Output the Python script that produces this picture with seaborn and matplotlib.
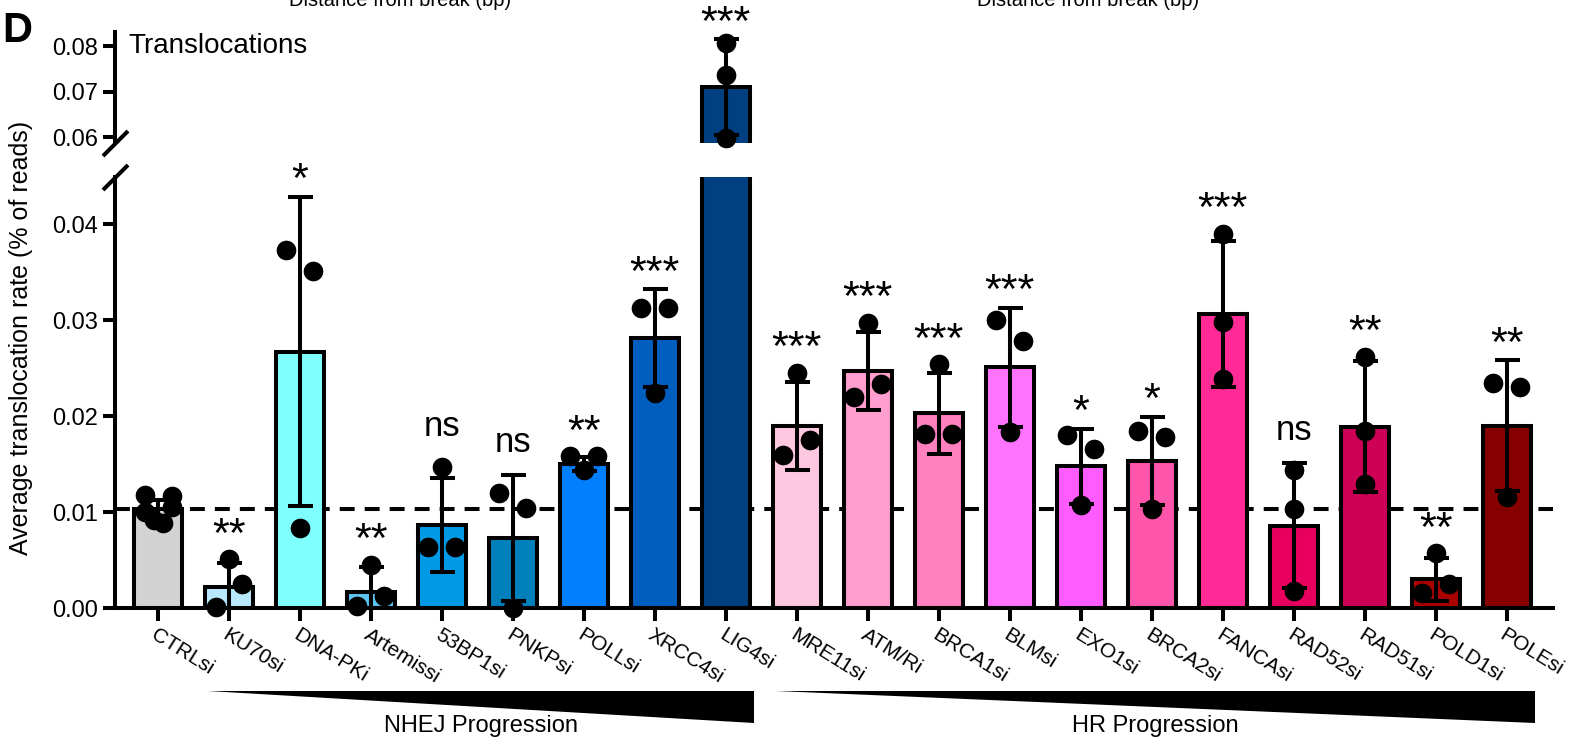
import numpy as np
import matplotlib
matplotlib.use('Agg')
import matplotlib.pyplot as plt
import matplotlib.transforms as mtransforms
from matplotlib.patches import Polygon
from matplotlib.ticker import FormatStrFormatter
import seaborn as sns

# --- data (translocation rate, % of reads) ---
categories = ['CTRLsi', 'KU70si', 'DNA-PKi', 'Artemissi', '53BP1si', 'PNKPsi', 'POLLsi',
              'XRCC4si', 'LIG4si', 'MRE11si', 'ATM/Ri', 'BRCA1si', 'BLMsi', 'EXO1si',
              'BRCA2si', 'FANCAsi', 'RAD52si', 'RAD51si', 'POLD1si', 'POLEsi']
means = [0.0103, 0.0022, 0.0267, 0.0017, 0.0087, 0.0073, 0.0150, 0.0281, 0.0710, 0.0190,
         0.0247, 0.0203, 0.0251, 0.0148, 0.0153, 0.0306, 0.0086, 0.0189, 0.0030, 0.0190]
sds = [0.0010, 0.0025, 0.0161, 0.0026, 0.0049, 0.0066, 0.0007, 0.0051, 0.0105, 0.0046,
       0.0041, 0.0042, 0.0062, 0.0039, 0.0046, 0.0076, 0.0065, 0.0068, 0.0022, 0.0068]
replicates = [
    [0.0118, 0.0117, 0.0100, 0.0105, 0.0089, 0.0092],
    [0.0051, 0.0001, 0.0025],
    [0.0373, 0.0351, 0.0084],
    [0.0045, 0.0002, 0.0013],
    [0.0147, 0.0064, 0.0064],
    [0.0120, 0.0104, 0.0000],
    [0.0158, 0.0158, 0.0144],
    [0.0313, 0.0313, 0.0224],
    [0.0808, 0.0737, 0.0598],
    [0.0245, 0.0160, 0.0175],
    [0.0297, 0.0220, 0.0233],
    [0.0254, 0.0181, 0.0181],
    [0.0300, 0.0278, 0.0184],
    [0.0180, 0.0166, 0.0107],
    [0.0185, 0.0178, 0.0103],
    [0.0390, 0.0298, 0.0239],
    [0.0144, 0.0103, 0.0018],
    [0.0262, 0.0185, 0.0129],
    [0.0057, 0.0016, 0.0025],
    [0.0234, 0.0230, 0.0116],
]
sig_labels = ['', '**', '*', '**', 'ns', 'ns', '**', '***', '***', '***',
              '***', '***', '***', '*', '*', '***', 'ns', '**', '**', '**']
bar_colors = ['#D3D3D3', '#B8E8FC', '#80FFFF', '#5CC3F2', '#0099E6', '#0080BB', '#0080FF',
              '#005EBF', '#003F80', '#FFC8E1', '#FF9ECF', '#FF80BF', '#FF73FF', '#FF5CFF',
              '#FF55AA', '#FF2A95', '#E8005E', '#CC0055', '#AA0000', '#860000']
ctrl_level = 0.0103
nhej_span = (1, 8)
hr_span = (9, 19)

sns.set_theme(style='ticks')
plt.rcParams['font.family'] = ['Liberation Sans', 'DejaVu Sans']
plt.rcParams.update({'text.color': 'black', 'axes.edgecolor': 'black',
                     'xtick.color': 'black', 'ytick.color': 'black',
                     'axes.linewidth': 2.9})

fig = plt.figure(figsize=(15.84, 7.40), dpi=100)
ax_top = fig.add_axes([0.0726, 0.8068, 0.9078, 0.1504])
ax_bot = fig.add_axes([0.0726, 0.1781, 0.9078, 0.5827])
low_lim = (0, 0.0449)
top_lim = (0.05875, 0.0832)
xpos = np.arange(len(categories))


def spread(vals, px_per_unit, d=0.19, thresh_px=24):
    # GraphPad-like column scatter: neighbours that would overlap get pushed sideways
    vals = np.asarray(vals)
    offs = np.zeros(len(vals))
    groups = []
    for idx in np.argsort(vals, kind='stable'):
        if groups and (vals[idx] - vals[groups[-1][0]]) * px_per_unit < thresh_px:
            groups[-1].append(idx)
        else:
            groups.append([idx])
    for g in groups:
        g = sorted(g)
        pattern = sorted(np.linspace(-d, d, len(g)), key=lambda o: -abs(o)) if len(g) > 1 else [0.0]
        for idx, o in zip(g, pattern):
            offs[idx] = o
    return offs


for ax, lim in [(ax_top, top_lim), (ax_bot, low_lim)]:
    sns.barplot(x=categories, y=means, hue=categories, palette=bar_colors, legend=False,
                width=0.68, saturation=1, edgecolor='black', linewidth=2.9,
                errorbar=None, ax=ax, zorder=2)
    ax.errorbar(xpos, means, yerr=sds, fmt='none', ecolor='black', elinewidth=2.9,
                capsize=9, capthick=2.9, zorder=3)
    ax.set_xlim(-0.606, 19.652)
    ax.set_ylim(*lim)
    ax.set_ylabel('')
    ax.yaxis.set_major_formatter(FormatStrFormatter('%.2f'))
    ax.tick_params(axis='y', length=9, width=2.9, labelsize=17, pad=3)
    for s in ['top', 'right']:
        ax.spines[s].set_visible(False)

# dots, each placed on the axis that holds its value
for ax, lim in [(ax_top, top_lim), (ax_bot, low_lim)]:
    px_per_unit = ax.get_window_extent().height / (lim[1] - lim[0])
    xs, ys = [], []
    for i, vals in enumerate(replicates):
        offs = spread(vals, px_per_unit)
        for v, o in zip(vals, offs):
            if lim[0] <= v <= lim[1]:
                xs.append(i + o)
                ys.append(v)
    ax.scatter(xs, ys, s=200, color='black', linewidths=0, zorder=4, clip_on=False)

ax_top.set_yticks([0.06, 0.07, 0.08])
ax_top.spines['bottom'].set_visible(False)
ax_top.tick_params(axis='x', bottom=False, labelbottom=False)
ax_top.set_xlabel('')

ax_bot.set_yticks([0.0, 0.01, 0.02, 0.03, 0.04])
ax_bot.axhline(ctrl_level, color='black', lw=2.9, dashes=(3.7, 2.5), zorder=0.5)
ax_bot.set_xticks(xpos)
ax_bot.set_xticklabels(categories, rotation=-32, ha='left', va='top',
                       rotation_mode='anchor', fontsize=15)
ax_bot.tick_params(axis='x', length=9, width=2.9, pad=3)
ax_bot.set_xlabel('')

# break marks on the y axis
brk = dict(marker=[(-1, -1), (1, 1)], markersize=18, linestyle='none', color='black',
           mec='black', mew=2.9, clip_on=False)
ax_top.plot([0], [0], transform=ax_top.transAxes, **brk)
ax_bot.plot([0], [1], transform=ax_bot.transAxes, **brk)

# significance labels
for i, lab in enumerate(sig_labels):
    if not lab:
        continue
    ax = ax_top if means[i] > low_lim[1] else ax_bot
    cap = means[i] + sds[i]
    top = max(cap, max(replicates[i]))
    extra = 7 if max(replicates[i]) > cap else 1.5
    star = '*' in lab
    ax.annotate(lab, (i, top), xytext=(0, extra + (2 if star else 15)),
                textcoords='offset points', ha='center', va='baseline',
                fontsize=31 if star else 25, annotation_clip=False, zorder=5)

# progression wedges under the tick labels
trans = mtransforms.blended_transform_factory(ax_bot.transData, ax_bot.transAxes)
for (a, b), name in [(nhej_span, 'NHEJ Progression'), (hr_span, 'HR Progression')]:
    x0, x1 = a - 0.3, b + 0.4
    ax_bot.add_patch(Polygon([(x0, -0.192), (x1, -0.192), (x1, -0.266)], closed=True,
                             facecolor='black', edgecolor='none', transform=trans,
                             clip_on=False))
    ax_bot.text((x0 + x1) / 2, -0.286, name, transform=trans, ha='center',
                va='baseline', fontsize=17)

ax_top.text(0.009, 0.809, 'Translocations', transform=ax_top.transAxes,
            fontsize=20, va='baseline', ha='left')
fig.text(2 / 1584, 1 - 42 / 740, 'D', fontsize=30, fontweight='bold', va='baseline')
fig.text(21 / 1584, 1 - 338 / 740, 'Average translocation rate (% of reads)',
         rotation=90, ha='center', va='center', fontsize=18)
# axis titles of the panel above, cut by the top edge as in the source figure
for cx in [400, 1088]:
    fig.text(cx / 1584, 1 - 6 / 740, 'Distance from break (bp)', ha='center',
             va='baseline', fontsize=14.5)

fig.savefig('out.png', dpi=100, facecolor='white')
